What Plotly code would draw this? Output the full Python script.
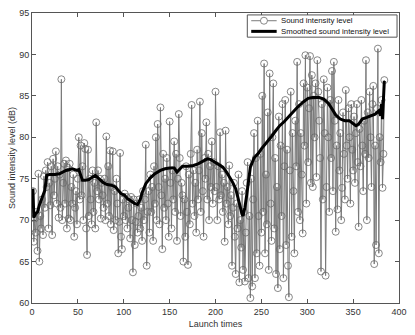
import plotly.graph_objects as go

# Raw sound intensity level, launch times 1..384
raw_levels = [
    73.5, 67.4, 70.2, 68.5, 71.0, 66.3, 75.6, 65.0, 70.5, 69.0,
    72.5, 68.2, 75.3, 71.5, 76.0, 74.0, 77.0, 69.0, 74.5, 71.8,
    76.5, 68.2, 77.4, 73.0, 75.0, 78.3, 72.0, 76.5, 70.3, 75.5,
    71.5, 87.0, 70.0, 74.5, 76.8, 72.0, 77.2, 69.0, 76.3, 70.2,
    76.8, 70.0, 74.0, 72.0, 75.5, 68.0, 71.5, 73.5, 69.5, 75.0,
    80.0, 72.5, 79.0, 73.0, 76.5, 70.0, 79.3, 78.6, 69.0, 65.8,
    78.5, 70.5, 75.0, 72.5, 69.5, 76.0, 71.0, 74.5, 69.0, 81.8,
    73.5, 76.0, 72.5, 75.0, 70.2, 74.5, 73.0, 71.5, 75.0, 70.0,
    80.1, 72.0, 76.5, 70.5, 78.4, 69.5, 74.0, 78.3, 68.8, 73.5,
    70.0, 75.0, 72.0, 66.0, 69.8, 78.1, 68.0, 66.5, 72.5, 70.5,
    73.2, 70.0, 72.8, 69.0, 71.5, 72.5, 67.8, 72.8, 70.0, 63.7,
    72.5, 67.0, 69.8, 72.0, 68.5, 70.5, 72.5, 69.0, 71.5, 67.5,
    73.5, 70.0, 72.5, 79.1, 64.5, 71.0, 73.5, 68.5, 75.5, 71.0,
    74.0, 67.5, 76.5, 72.0, 80.0, 70.0, 81.6, 74.0, 69.5, 83.6,
    73.0, 66.5, 78.0, 71.5, 75.0, 70.0, 77.5, 72.0, 68.0, 81.9,
    74.5, 69.0, 76.0, 72.5, 79.5, 71.0, 78.0, 67.5, 75.0, 82.8,
    77.5, 70.5, 74.5, 73.0, 65.0, 72.5, 68.0, 76.5, 71.0, 64.6,
    75.5, 69.5, 78.0, 83.9, 72.0, 76.0, 70.5, 74.5, 68.5, 78.5,
    72.5, 76.0, 84.3, 71.0, 80.5, 73.5, 68.0, 77.5, 75.0, 81.8,
    72.5, 78.0, 70.0, 76.5, 74.0, 79.5, 72.0, 77.0, 73.5, 85.5,
    74.0, 70.0, 76.5, 72.5, 80.6, 73.0, 75.5, 71.0, 74.5, 67.4,
    80.8, 72.0, 74.0, 69.5, 76.6, 70.5, 73.0, 64.5, 71.5, 74.5,
    68.0, 63.5, 72.0, 69.0, 75.5, 62.5, 70.0, 66.7, 73.5, 64.0,
    71.0, 62.6, 68.5, 74.5, 77.0, 63.0, 70.5, 60.6, 75.0, 62.0,
    72.5, 80.5, 63.0, 77.5, 66.0, 82.0, 70.5, 64.5, 78.0, 68.5,
    85.0, 71.0, 88.9, 66.0, 75.5, 69.5, 83.0, 64.0, 87.7, 72.0,
    67.5, 80.0, 86.5, 69.0, 77.5, 63.5, 74.0, 61.8, 82.5, 66.5,
    79.0, 70.5, 84.0, 63.0, 76.5, 84.5, 67.0, 78.5, 64.5, 60.7,
    76.0, 85.5, 68.0, 80.5, 73.5, 66.0, 82.0, 76.5, 89.1, 71.0,
    84.0, 70.0, 80.5, 75.5, 68.4, 86.5, 79.0, 89.9, 72.0, 86.0,
    77.0, 83.5, 89.8, 74.5, 87.5, 74.0, 85.0, 80.0, 86.5, 75.2,
    89.3, 85.5, 82.0, 77.5, 63.8, 84.0, 72.5, 87.0, 80.5, 63.3,
    74.0, 86.0, 80.0, 71.0, 84.5, 77.5, 88.0, 73.5, 89.1, 82.0,
    68.6, 79.0, 71.3, 84.5, 76.0, 80.5, 70.0, 73.9, 83.0, 78.0,
    72.5, 85.7, 79.0, 75.0, 83.5, 80.0, 72.0, 84.0, 78.5, 76.0,
    82.5, 74.5, 80.5, 84.0, 77.0, 69.2, 81.0, 76.5, 84.5, 79.0,
    73.5, 82.0, 78.0, 89.3, 70.0, 83.0, 77.5, 85.5, 80.0, 74.0,
    84.0, 86.2, 64.7, 79.0, 67.0, 83.5, 90.7, 66.0, 80.0, 77.0,
    84.5, 73.9, 78.0, 86.9,
]
launch_times = list(range(1, len(raw_levels) + 1))

# Smoothed sound intensity level
smooth_times = [
    1, 2, 4, 6, 8, 10, 12, 14, 15, 16, 19, 25, 30, 37, 44, 49, 51, 53, 55, 58,
    62, 66, 69, 72, 75, 78, 82, 87, 91, 94, 97, 101, 104, 108, 112, 115, 118, 120, 124, 129,
    134, 140, 145, 150, 155, 158, 160, 164, 170, 176, 181, 186, 191, 195, 199, 203, 208, 212, 215, 218,
    222, 225, 227, 229, 230, 232, 234, 236, 238, 242, 247, 250, 254, 258, 261, 265, 270, 275, 282, 289,
    296, 301, 306, 313, 318, 323, 326, 331, 336, 341, 346, 350, 353, 356, 360, 365, 369, 374, 378, 380,
    381, 382, 383, 384,
]
smooth_levels = [
    73.8, 70.3, 70.8, 71.0, 71.8, 72.3, 73.0, 73.6, 74.5, 75.4, 75.5, 75.5, 75.6, 76.0, 76.2, 76.0, 76.1, 75.4, 74.8, 74.8,
    74.9, 75.2, 75.4, 75.1, 74.8, 74.5, 74.3, 74.2, 74.0, 73.6, 73.2, 73.0, 72.6, 72.3, 72.0, 71.9, 72.5, 73.3, 74.4, 75.1,
    75.6, 76.0, 76.2, 76.3, 76.3, 75.8, 76.0, 76.5, 76.5, 76.6, 76.8, 77.1, 77.4, 77.3, 77.0, 76.8, 76.4, 75.8, 75.3, 74.7,
    73.8, 72.5, 71.3, 70.7, 70.5, 71.5, 73.0, 75.0, 76.4, 77.5, 78.1, 78.6, 79.2, 79.7, 80.1, 80.7, 81.4, 81.9, 82.8, 83.6,
    84.3, 84.7, 84.8, 84.8, 84.6, 84.1, 83.6, 82.7, 82.2, 82.0, 82.0, 81.7, 81.4, 81.6, 82.2, 82.4, 82.6, 82.8, 83.2, 82.6,
    84.0, 82.2, 84.5, 86.8,
]

series_names = ["Sound intensity level", "Smoothed sound intensity level"]
x_ticks = [0, 50, 100, 150, 200, 250, 300, 350, 400]
y_ticks = [60, 65, 70, 75, 80, 85, 90, 95]

FONT = "Liberation Sans"
TXT = "#333333"
RAW_LINE = "#7a7a7a"
RAW_MARK = "#6a6a6a"

fig = go.Figure()
fig.add_trace(go.Scatter(
    x=launch_times, y=raw_levels, mode="lines+markers", name=series_names[0],
    line=dict(color=RAW_LINE, width=1),
    marker=dict(symbol="circle-open", size=7, color=RAW_MARK, line=dict(width=0.8)),
    showlegend=False,
))
fig.add_trace(go.Scatter(
    x=smooth_times, y=smooth_levels, mode="lines", name=series_names[1],
    line=dict(color="#000000", width=3), showlegend=False,
))

axis_common = dict(
    showgrid=False, zeroline=False, showline=True, linecolor="#555555", linewidth=1,
    mirror="ticks", ticks="inside", ticklen=4, tickcolor="#555555",
    tickfont=dict(family=FONT, size=9, color=TXT),
)
fig.update_xaxes(range=[0, 400], tickvals=x_ticks, ticktext=[str(v) for v in x_ticks],
                 title=dict(text="Launch times", font=dict(family=FONT, size=9, color=TXT), standoff=4),
                 **axis_common)
fig.update_yaxes(range=[60, 95], tickvals=y_ticks, ticktext=[str(v) for v in y_ticks],
                 title=dict(text="Sound intensity level (dB)", font=dict(family=FONT, size=9, color=TXT), standoff=2),
                 **axis_common)

# ---- compact MATLAB-style legend drawn in paper coordinates ----
L, R, T, B = 32, 407, 12, 312          # plot-area pixel box
W, H = R - L, B - T
def px(x): return (x - L) / W
def py(y): return (B - y) / H

box = dict(x0=252, x1=405, y0=14, y1=37)
rows = [20.0, 31.0]
sample = (256, 282)
shapes = [
    dict(type="rect", xref="paper", yref="paper",
         x0=px(box["x0"]), x1=px(box["x1"]), y0=py(box["y1"]), y1=py(box["y0"]),
         line=dict(color="#555555", width=1), fillcolor="white", layer="above"),
    dict(type="line", xref="paper", yref="paper",
         x0=px(sample[0]), x1=px(sample[1]), y0=py(rows[0]), y1=py(rows[0]),
         line=dict(color=RAW_LINE, width=1), layer="above"),
    dict(type="circle", xref="paper", yref="paper", xsizemode="pixel", ysizemode="pixel",
         xanchor=px((sample[0] + sample[1]) / 2), yanchor=py(rows[0]),
         x0=-3.5, x1=3.5, y0=-3.5, y1=3.5,
         line=dict(color=RAW_MARK, width=0.8), fillcolor="white", layer="above"),
    dict(type="line", xref="paper", yref="paper",
         x0=px(sample[0]), x1=px(sample[1]), y0=py(rows[1]), y1=py(rows[1]),
         line=dict(color="#000000", width=3), layer="above"),
]
annotations = [
    dict(xref="paper", yref="paper", x=px(284), y=py(r), xanchor="left", yanchor="middle",
         text=name, showarrow=False, font=dict(family=FONT, size=7.8, color="#111111"))
    for name, r in zip(series_names, rows)
]

fig.update_layout(
    width=415, height=335,
    margin=dict(l=L, r=415 - R, t=T, b=335 - B),
    paper_bgcolor="white", plot_bgcolor="white",
    showlegend=False,
    shapes=shapes, annotations=annotations,
)

fig.write_html("out.html")
